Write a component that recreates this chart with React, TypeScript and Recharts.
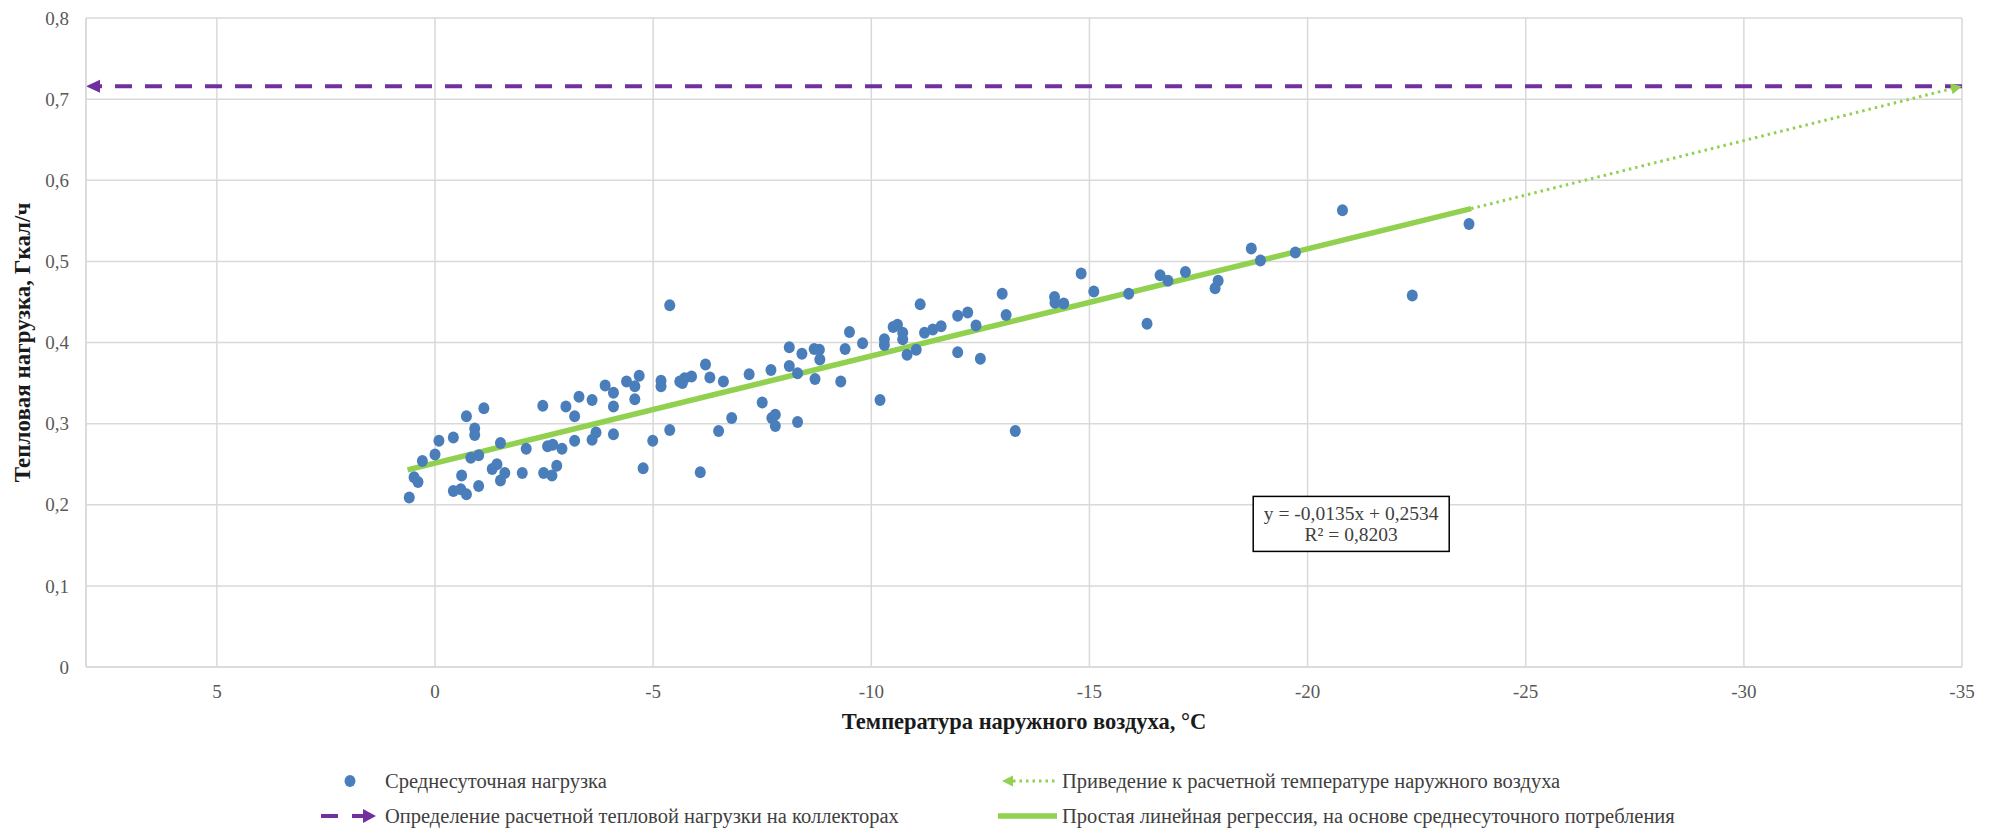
import React from 'react';
import {
  ComposedChart, Scatter, Line, XAxis, YAxis, CartesianGrid, ReferenceLine, ReferenceDot,
} from 'recharts';

const POINT_COLOR = '#4A7EBB';
const GREEN = '#92D050';
const PURPLE = '#7030A0';
const GRID = '#D9D9D9';
const TICK_COLOR = '#595959';
const TEXT_COLOR = '#404040';
const FONT = '"Liberation Serif", "Times New Roman", serif';

// outdoor temperature, °C
const temperatures = [
  0.59, 0.48, 0.39, 0.29, 0.0, -0.09, -0.42, -0.42, -0.61, -0.59, -0.72, -0.72, -0.91, -0.91, -0.82,
  -1.0, -1.0, -1.12, -1.31, -1.42, -1.5, -1.5, -1.6, -2.0, -2.09, -2.47, -2.49, -2.58, -2.68, -2.7,
  -2.79, -2.91, -3.0, -3.2, -3.2, -3.3, -3.6, -3.6, -3.69, -3.9, -4.09, -4.09, -4.09, -4.39, -4.58,
  -4.68, -4.58, -4.77, -4.99, -5.18, -5.18, -5.38, -5.38, -5.61, -5.67, -5.72, -5.88, -6.08,
  -6.2, -6.3, -6.5, -6.61, -6.8, -7.2, -7.5, -7.7, -7.72, -7.8, -7.8, -8.12, -8.12, -8.31, -8.31,
  -8.41, -8.69, -8.81, -8.82, -8.71, -9.3, -9.4, -9.5, -9.8, -10.2, -10.3, -10.3, -10.5, -10.6,
  -10.72, -10.72, -10.82, -11.12, -11.03, -11.22, -11.41, -11.6, -11.98, -11.98,
  -12.21, -12.4, -12.5, -13.0, -13.09, -13.3, -14.2, -14.21, -14.41, -14.81, -15.1, -15.9, -16.32,
  -16.62, -16.8, -17.2, -17.88, -17.95, -18.71, -18.92, -19.72, -20.8, -22.4, -23.7,
];

// average daily load, Gcal/h
const loads = [
  0.209, 0.234, 0.228, 0.254, 0.262, 0.279, 0.283, 0.217, 0.236, 0.219, 0.213, 0.309, 0.294, 0.286, 0.258,
  0.261, 0.223, 0.319, 0.244, 0.25, 0.276, 0.23, 0.239, 0.239, 0.269, 0.322, 0.239, 0.272, 0.236, 0.274,
  0.248, 0.269, 0.321, 0.309, 0.279, 0.333, 0.329, 0.28, 0.289, 0.347, 0.338, 0.321, 0.287, 0.352, 0.346,
  0.359, 0.33, 0.245, 0.279, 0.353, 0.346, 0.446, 0.292, 0.352, 0.35, 0.356, 0.358, 0.24,
  0.373, 0.357, 0.291, 0.352, 0.307, 0.361, 0.326, 0.366, 0.307, 0.311, 0.297, 0.394, 0.371, 0.362, 0.302,
  0.386, 0.392, 0.391, 0.379, 0.355, 0.352, 0.392, 0.413, 0.399, 0.329, 0.404, 0.397, 0.419, 0.422,
  0.412, 0.404, 0.385, 0.447, 0.391, 0.412, 0.416, 0.42, 0.433, 0.388,
  0.437, 0.421, 0.38, 0.46, 0.434, 0.291, 0.456, 0.449, 0.448, 0.485, 0.463, 0.46, 0.423,
  0.483, 0.476, 0.487, 0.467, 0.476, 0.516, 0.501, 0.511, 0.563, 0.458, 0.546,
];

const regression = [{ x: 0.63, y: 0.243 }, { x: -23.75, y: 0.565 }];
const extrapolation = [{ x: -23.75, y: 0.565 }, { x: -35, y: 0.716 }];
const designLoad = [{ x: -35, y: 0.716 }, { x: 8, y: 0.716 }];

const xTicks = [5, 0, -5, -10, -15, -20, -25, -30, -35];
const yTicks = [0, 0.1, 0.2, 0.3, 0.4, 0.5, 0.6, 0.7, 0.8];

const equationLines = ['y = -0,0135x + 0,2534', 'R² = 0,8203'];
const equationAnchor = { x: -21.0, y: 0.177 };

const xTitle = 'Температура наружного воздуха, °C';
const yTitle = 'Тепловая нагрузка, Гкал/ч';
const legendLabels = [
  'Среднесуточная нагрузка',
  'Приведение к расчетной температуре наружного воздуха',
  'Определение расчетной тепловой нагрузки на коллекторах',
  'Простая линейная регрессия, на основе среднесуточного потребления',
];

const points = temperatures.map((t, i) => ({ x: t, y: loads[i] }));

const formatY = (v: number) => (v === 0 ? '0' : v.toFixed(1).replace('.', ','));

const arrowShape = (color: string, width: number, dash: string, headLen: number, headHalf: number) =>
  (props: any) => {
    const { x1, y1, x2, y2 } = props;
    const ang = Math.atan2(y2 - y1, x2 - x1);
    const bx = x2 - headLen * Math.cos(ang);
    const by = y2 - headLen * Math.sin(ang);
    const px = -Math.sin(ang) * headHalf;
    const py = Math.cos(ang) * headHalf;
    return (
      <g>
        <line x1={x1} y1={y1} x2={bx} y2={by} stroke={color} strokeWidth={width} strokeDasharray={dash} />
        <polygon points={`${x2},${y2} ${bx + px},${by + py} ${bx - px},${by - py}`} fill={color} />
      </g>
    );
  };

const EquationBox = (props: any) => {
  const { cx, cy } = props;
  return (
    <g>
      <rect x={cx - 98} y={cy - 27} width={196} height={55} fill="#fff" stroke="#000" strokeWidth={1.5} />
      <text x={cx} y={cy - 10} textAnchor="middle" dominantBaseline="central"
        fontFamily={FONT} fontSize={19.5} fill={TEXT_COLOR}>{equationLines[0]}</text>
      <text x={cx} y={cy + 11} textAnchor="middle" dominantBaseline="central"
        fontFamily={FONT} fontSize={19.5} fill={TEXT_COLOR}>{equationLines[1]}</text>
    </g>
  );
};

const Dot = (props: any) => (
  <ellipse cx={props.cx} cy={props.cy} rx={5.5} ry={6} fill={POINT_COLOR} />
);

const XTitle = (props: any) => {
  const { viewBox } = props;
  const cx = viewBox.x + viewBox.width / 2;
  return (
    <text x={cx} y={721} textAnchor="middle" dominantBaseline="central"
      fontFamily={FONT} fontSize={22.5} fontWeight="bold" fill="#1a1a1a">{xTitle}</text>
  );
};

const YTitle = (props: any) => {
  const { viewBox } = props;
  const cy = viewBox.y + viewBox.height / 2;
  return (
    <text x={22} y={cy} transform={`rotate(-90 22 ${cy})`} textAnchor="middle" dominantBaseline="central"
      fontFamily={FONT} fontSize={23} fontWeight="bold" fill="#1a1a1a">{yTitle}</text>
  );
};

const LegendItem: React.FC<{ left: number; top: number; width: number; label: string; children: React.ReactNode }> =
  ({ left, top, width, label, children }) => (
    <div style={{ position: 'absolute', left, top: top - 12, height: 24, display: 'flex', alignItems: 'center' }}>
      <svg width={width} height={24} style={{ display: 'block' }}>{children}</svg>
      <span style={{ fontFamily: FONT, fontSize: 20.5, color: TEXT_COLOR, whiteSpace: 'nowrap', marginLeft: 4 }}>
        {label}
      </span>
    </div>
  );

export default function App() {
  return (
    <div style={{ position: 'absolute', left: 0, top: 0, width: 1995, height: 833, background: '#fff' }}>
      <ComposedChart width={1995} height={833} margin={{ top: 18, right: 33, bottom: 0, left: 0 }}>
        <CartesianGrid stroke={GRID} strokeWidth={1.5} />
        <XAxis
          type="number"
          dataKey="x"
          domain={[-35, 8]}
          reversed
          ticks={xTicks}
          allowDataOverflow
          height={166}
          stroke={GRID}
          strokeWidth={1.5}
          tickLine={false}
          tickSize={0}
          tickMargin={18}
          tick={{ fill: TICK_COLOR, fontSize: 19, fontFamily: FONT }}
          label={{ content: XTitle }}
        />
        <YAxis
          type="number"
          dataKey="y"
          domain={[0, 0.8]}
          ticks={yTicks}
          allowDataOverflow
          width={86}
          stroke={GRID}
          strokeWidth={1.5}
          tickLine={false}
          tickSize={0}
          tickMargin={17}
          tickFormatter={formatY}
          tick={{ fill: TICK_COLOR, fontSize: 19, fontFamily: FONT }}
          label={{ content: YTitle }}
        />
        <ReferenceLine
          segment={designLoad}
          shape={arrowShape(PURPLE, 4, '17 13', 14, 6.5)}
        />
        <Scatter data={points} shape={Dot} isAnimationActive={false} />
        <Line
          data={regression}
          dataKey="y"
          stroke={GREEN}
          strokeWidth={5.5}
          dot={false}
          activeDot={false}
          isAnimationActive={false}
        />
        <ReferenceLine
          segment={extrapolation}
          shape={arrowShape(GREEN, 3, '2.5 4', 11, 5.5)}
        />
        <ReferenceDot x={equationAnchor.x} y={equationAnchor.y} r={0} shape={EquationBox} />
      </ComposedChart>

      <LegendItem left={316} top={781} width={65} label={legendLabels[0]}>
        <ellipse cx={34} cy={12} rx={5.5} ry={6} fill={POINT_COLOR} />
      </LegendItem>
      <LegendItem left={995} top={781} width={63} label={legendLabels[1]}>
        <line x1={18} y1={12} x2={62} y2={12} stroke={GREEN} strokeWidth={3} strokeDasharray="2.5 4" />
        <polygon points="7,12 18,6.5 18,17.5" fill={GREEN} />
      </LegendItem>
      <LegendItem left={316} top={816} width={65} label={legendLabels[2]}>
        <line x1={5} y1={12} x2={22} y2={12} stroke={PURPLE} strokeWidth={4} />
        <line x1={36} y1={12} x2={48} y2={12} stroke={PURPLE} strokeWidth={4} />
        <polygon points="60,12 47,5 47,19" fill={PURPLE} />
      </LegendItem>
      <LegendItem left={995} top={816} width={63} label={legendLabels[3]}>
        <line x1={3} y1={12} x2={62} y2={12} stroke={GREEN} strokeWidth={5.5} />
      </LegendItem>
    </div>
  );
}
